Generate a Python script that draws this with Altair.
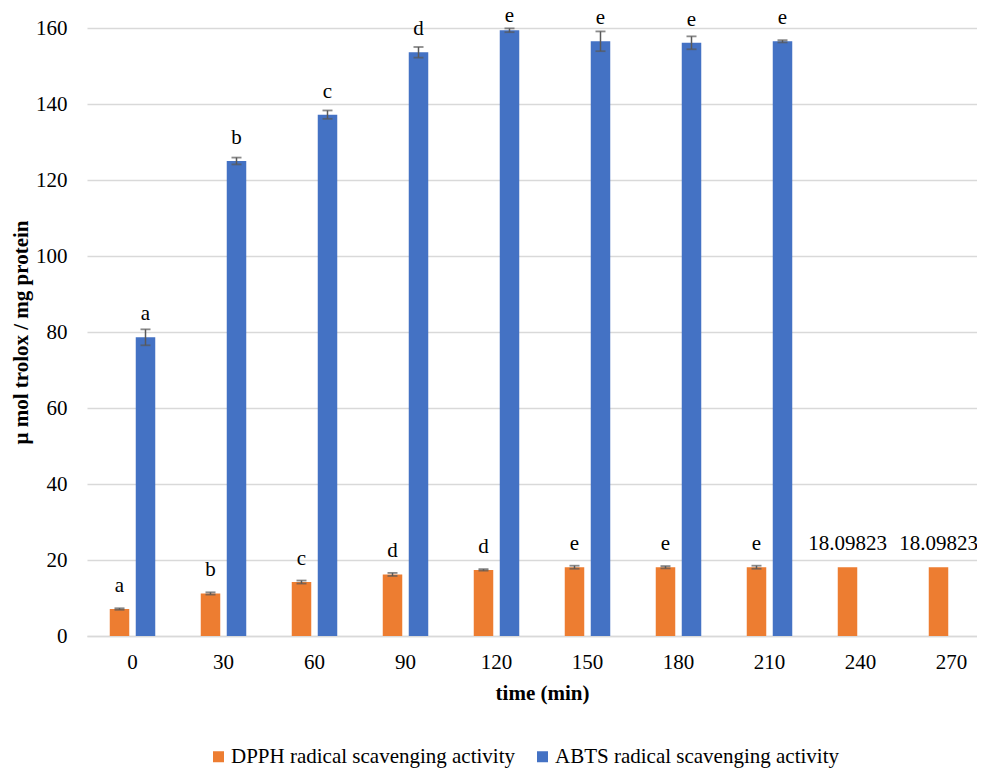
import altair as alt
import pandas as pd

times = ["0", "30", "60", "90", "120", "150", "180", "210", "240", "270"]
series_names = ["DPPH radical scavenging activity", "ABTS radical scavenging activity"]

dpph = [7.1, 11.2, 14.2, 16.2, 17.4, 18.1, 18.1, 18.1, 18.09823, 18.09823]
dpph_err = [0.2, 0.3, 0.4, 0.4, 0.2, 0.4, 0.3, 0.4, 0, 0]
dpph_lbl = ["a", "b", "c", "d", "d", "e", "e", "e", "18.09823", "18.09823"]

abts = [78.6, 125.0, 137.2, 153.6, 159.4, 156.5, 156.1, 156.5]
abts_err = [2.1, 0.9, 1.1, 1.4, 0.5, 2.6, 1.7, 0.3]
abts_lbl = ["a", "b", "c", "d", "e", "e", "e", "e"]

rows = []
for t, v, e, l in zip(times, dpph, dpph_err, dpph_lbl):
    rows.append(dict(time=t, series=series_names[0], value=v, err=e, label=l))
for t, v, e, l in zip(times, abts, abts_err, abts_lbl):
    rows.append(dict(time=t, series=series_names[1], value=v, err=e, label=l))
df = pd.DataFrame(rows)

FONT = "'Liberation Serif', 'Times New Roman', Times, serif"
ORANGE = "#ED7D31"
BLUE = "#4472C4"
ERR = "#595959"

x = alt.X("time:N", sort=times,
          scale=alt.Scale(domain=times, range=[0, 910], paddingInner=0.5, paddingOuter=0.25),
          axis=alt.Axis(title="time (min)", labelAngle=0, ticks=False, grid=False,
                        labelPadding=15, titlePadding=10, domainColor="#d9d9d9", domainWidth=1.5))
xo = alt.XOffset("series:N", scale=alt.Scale(domain=series_names, paddingInner=0.25, paddingOuter=0))
y_scale = alt.Scale(domain=[0, 160], nice=False)

base = alt.Chart(df)

bars = base.mark_bar().encode(
    x=x,
    xOffset=xo,
    y=alt.Y("value:Q", scale=y_scale,
            axis=alt.Axis(title="μ mol trolox / mg protein", values=list(range(0, 161, 20)),
                          ticks=False, domain=False, labelPadding=20, titlePadding=4,
                          gridColor="#d9d9d9", gridWidth=1.5)),
    color=alt.Color("series:N", scale=alt.Scale(domain=series_names, range=[ORANGE, BLUE]),
                    legend=alt.Legend(title=None, orient="none", direction="horizontal",
                                      legendX=121, legendY=718, symbolType="square",
                                      symbolSize=121, symbolStrokeWidth=0, labelOffset=2,
                                      labelFontSize=21, labelFont=FONT, labelColor="#000000",
                                      labelLimit=400, columnPadding=16)),
)

eb = base.transform_filter("datum.err > 0").transform_calculate(
    lo="datum.value - datum.err", hi="datum.value + datum.err")
rule = eb.mark_rule(color=ERR, strokeWidth=1.5).encode(
    x=x, xOffset=xo, y=alt.Y("lo:Q", scale=y_scale), y2="hi:Q")
cap_hi = eb.mark_tick(color=ERR, thickness=1.8, size=10).encode(
    x=x, xOffset=xo, y=alt.Y("hi:Q", scale=y_scale))
cap_lo = eb.mark_tick(color=ERR, thickness=1.8, size=10).encode(
    x=x, xOffset=xo, y=alt.Y("lo:Q", scale=y_scale))

labels = base.transform_calculate(ly="min(datum.value, 157.2)").mark_text(
    font=FONT, fontSize=21, color="#000000", baseline="alphabetic", dy=-17).encode(
    x=x, xOffset=xo, y=alt.Y("ly:Q", scale=y_scale), text="label:N")

chart = alt.layer(bars, rule, cap_hi, cap_lo, labels).properties(
    width=890, height=608,
    autosize=alt.AutoSizeParams(type="none"),
    padding={"left": 79, "top": 20, "right": 0, "bottom": 134},
).configure_view(stroke=None).configure_axis(
    labelFont=FONT, titleFont=FONT, labelFontSize=21, titleFontSize=21,
    labelColor="#000000", titleColor="#000000", titleFontWeight="bold",
)

chart.save("out.html", embed_options={"renderer": "svg", "actions": False})
